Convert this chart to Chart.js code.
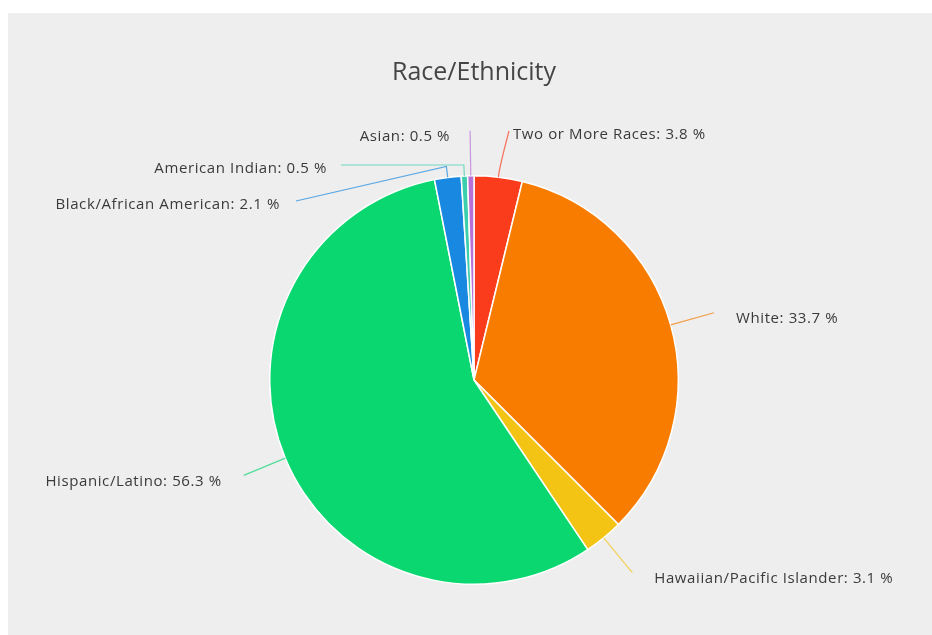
<!DOCTYPE html>
<html>
<head>
<meta charset="utf-8">
<script src="https://cdn.jsdelivr.net/npm/chart.js@4/dist/chart.umd.min.js"></script>
<style>
    html, body { margin: 0; background: #fff; }
    #panel { position: absolute; left: 8px; top: 13px; width: 924px; height: 622px; background: #eeeeee; }
    #wrap { position: absolute; left: 0; top: 0; width: 932px; height: 635px; }
</style>
</head>
<body>
<div id="panel"></div>
<div id="wrap"><canvas id="piechart"></canvas></div>
<script>
var labels = [
    'Two or More Races',
    'White',
    'Hawaiian/Pacific Islander',
    'Hispanic/Latino',
    'Black/African American',
    'American Indian',
    'Asian'
];
var values = [3.8, 33.7, 3.1, 56.3, 2.1, 0.5, 0.5];
var colors = ['#fa3c1c', '#f77c00', '#f4c414', '#0bd770', '#1888e0', '#3ccfae', '#b872d6'];

// crowded labels get pulled away from the top of the pie; null = straight out
var lineEnds = [[509, 131], null, null, null, [296, 201], [341, 165], null];
// space between end of leader line and text
var gaps = [4, 22, 22, 22, 16, 14, 20];

var FONT = '"Open Sans", sans-serif';

var leaderLabels = {
    id: 'leaderLabels',
    afterDraw: function(chart) {
        var ctx = chart.ctx;
        var arcs = chart.getDatasetMeta(0).data;
        ctx.save();
        ctx.font = '15px ' + FONT;
        ctx.letterSpacing = '0.6px';
        ctx.textBaseline = 'middle';
        arcs.forEach(function(arc, i) {
            var mid = (arc.startAngle + arc.endAngle) / 2;
            var r = arc.outerRadius;
            var cx = arc.x, cy = arc.y;
            var ax = cx + Math.cos(mid) * r, ay = cy + Math.sin(mid) * r;
            var bx = cx + Math.cos(mid) * (r + 11), by = cy + Math.sin(mid) * (r + 11);
            var ex, ey, dy = 6;
            if (lineEnds[i]) {
                ex = lineEnds[i][0]; ey = lineEnds[i][1]; dy = 4;
            } else {
                ex = cx + Math.cos(mid) * (r + 45); ey = cy + Math.sin(mid) * (r + 45);
            }
            ctx.strokeStyle = colors[i];
            ctx.globalAlpha = 0.7;
            ctx.lineWidth = 1.2;
            ctx.beginPath();
            ctx.moveTo(ax, ay);
            if (lineEnds[i] && i !== 0) {
                ctx.lineTo(bx, by);
                ctx.lineTo(ex, ey);
            } else {
                ctx.quadraticCurveTo(bx, by, ex, ey);
            }
            ctx.stroke();
            ctx.globalAlpha = 1;
            var right = ex >= cx;
            ctx.fillStyle = '#3a3a3a';
            ctx.textAlign = right ? 'left' : 'right';
            ctx.fillText(labels[i] + ': ' + values[i].toFixed(1) + ' %', ex + (right ? gaps[i] : -gaps[i]), ey + dy);
        });
        ctx.restore();
    }
};

var ctx = document.getElementById('piechart').getContext('2d');
var myPieChart = new Chart(ctx, {
    type: 'pie',
    data: {
        labels: labels,
        datasets: [{
            data: values,
            backgroundColor: colors,
            borderColor: '#ffffff',
            borderWidth: 1.5,
            hoverOffset: 0
        }]
    },
    options: {
        responsive: true,
        maintainAspectRatio: false,
        animation: false,
        layout: { padding: { left: 269, right: 253, top: 52, bottom: 50 } },
        plugins: {
            legend: { display: false },
            tooltip: { enabled: false },
            title: {
                display: true,
                text: 'Race/Ethnicity',
                color: '#454545',
                font: { family: FONT, size: 25, weight: 'normal' },
                padding: { top: 6, bottom: 87 }
            }
        }
    },
    plugins: [leaderLabels]
});
</script>
</body>
</html>
